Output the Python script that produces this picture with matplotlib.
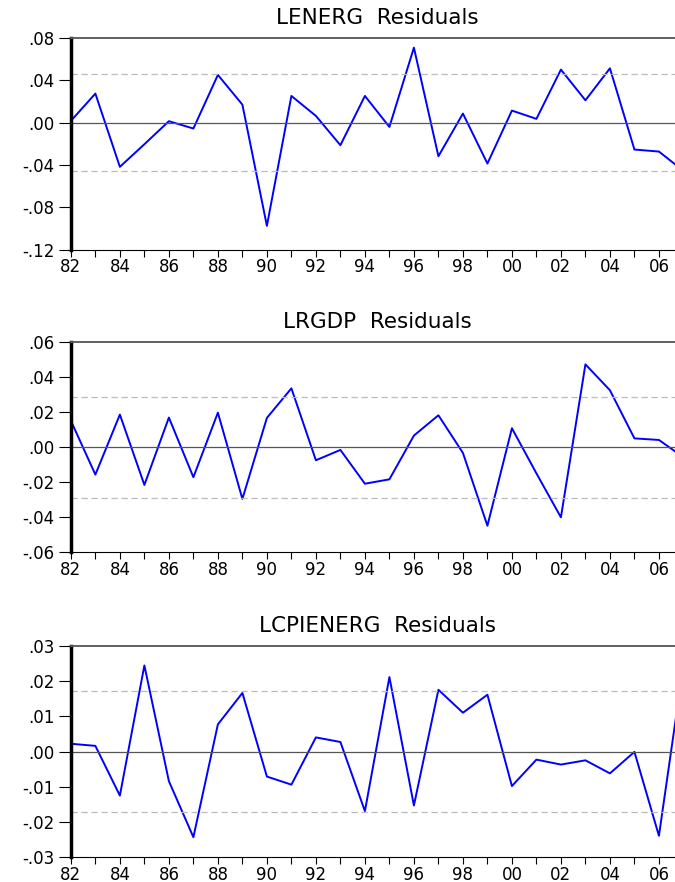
import matplotlib
matplotlib.use("Agg")
import matplotlib.pyplot as plt
import numpy as np

# anos (1982-2007) e residuos
anos = np.arange(1982, 2008)

lenerg = [0.0016, 0.0273, -0.0417, -0.0204, 0.0013, -0.0056, 0.0449, 0.0169,
          -0.0973, 0.0251, 0.0063, -0.0213, 0.0251, -0.0041, 0.0706, -0.0317,
          0.0085, -0.0386, 0.0113, 0.0035, 0.0499, 0.0210, 0.0511, -0.0254,
          -0.0273, -0.0455]
lrgdp = [0.0152, -0.0156, 0.0187, -0.0215, 0.0170, -0.0171, 0.0198, -0.0295,
         0.0168, 0.0337, -0.0074, -0.0015, -0.0208, -0.0183, 0.0067, 0.0183,
         -0.0032, -0.0448, 0.0109, -0.0149, -0.0400, 0.0474, 0.0326, 0.0051,
         0.0042, -0.0057]
lcpienerg = [0.0022, 0.0016, -0.0125, 0.0244, -0.0084, -0.0243, 0.0077, 0.0166,
             -0.0071, -0.0094, 0.0040, 0.0027, -0.0169, 0.0211, -0.0153, 0.0175,
             0.0110, 0.0161, -0.0098, -0.0023, -0.0037, -0.0025, -0.0062, -0.0001,
             -0.0239, 0.0244]

titulos = ["LENERG  Residuals", "LRGDP  Residuals", "LCPIENERG  Residuals"]
series = [lenerg, lrgdp, lcpienerg]
bandas = [0.0457, 0.0288, 0.0171]  # +/- 2 erros padrao (linhas tracejadas)
yticks = [np.arange(-0.12, 0.0801, 0.04), np.arange(-0.06, 0.0601, 0.02),
          np.arange(-0.03, 0.0301, 0.01)]
ylims = [(-0.12, 0.08), (-0.06, 0.06), (-0.03, 0.03)]

# posicoes dos paineis (fracoes da figura)
posicoes = [[0.105, 0.7166, 0.9075, 0.2407],
            [0.105, 0.3738, 0.9075, 0.2381],
            [0.105, 0.0280, 0.9075, 0.2399]]

plt.rcParams['font.family'] = ['DejaVu Sans']

fig = plt.figure(figsize=(6.75, 8.82), dpi=100)


def rotulo_y(v):
    s = f"{v:.2f}"
    s = s.replace("0.", ".")
    if s == "-.00":
        s = ".00"
    return s


for i in range(3):
    ax = fig.add_axes(posicoes[i])
    ax.plot(anos, series[i], color='#0000ff', lw=1.4, clip_on=True)
    ax.axhline(0, color='#555555', lw=0.9)
    ax.axhline(bandas[i], color='#bbbbbb', lw=0.9, ls=(0, (5, 3)))
    ax.axhline(-bandas[i], color='#bbbbbb', lw=0.9, ls=(0, (5, 3)))

    ax.set_xlim(1982, 2007)
    ax.set_ylim(*ylims[i])

    ax.set_xticks(anos)
    ax.set_xticklabels([f"{a % 100:02d}" if a % 2 == 0 and a < 2007 else "" for a in anos])
    ax.set_yticks(yticks[i])
    ax.set_yticklabels([rotulo_y(v) for v in yticks[i]])

    ax.tick_params(axis='x', direction='out', length=5, width=0.8, pad=1,
                   labelsize=12)
    ax.tick_params(axis='y', direction='out', length=9, width=0.8, pad=3,
                   labelsize=12)

    ax.spines['left'].set_linewidth(2.5)
    ax.spines['bottom'].set_linewidth(0.8)
    ax.spines['top'].set_color('#555555')
    ax.spines['top'].set_linewidth(1.3)
    ax.spines['right'].set_visible(False)

    ax.set_title(titulos[i], fontsize=15.5, pad=10)

fig.savefig("out.png", dpi=100)
